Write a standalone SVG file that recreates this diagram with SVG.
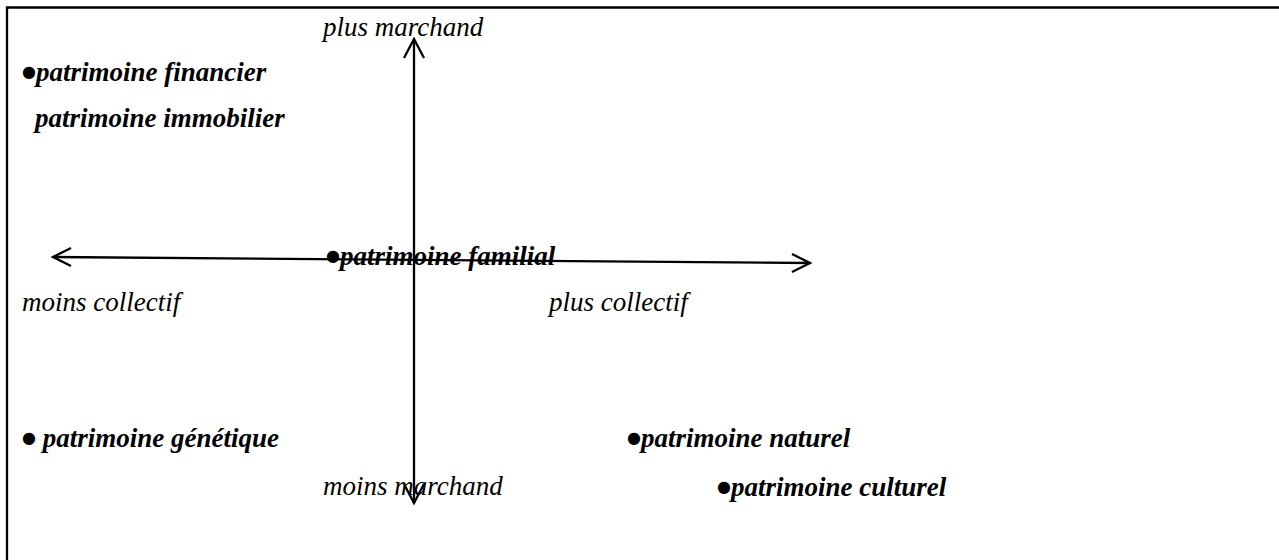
<svg xmlns="http://www.w3.org/2000/svg" width="1279" height="560" viewBox="0 0 1279 560">
<style>
.ax{font-family:"Liberation Serif","Times New Roman",serif;font-style:italic;font-size:27px;fill:#000}
.lb{font-family:"Liberation Serif","Times New Roman",serif;font-style:italic;font-weight:bold;font-size:27px;fill:#000}
.bul{font-family:"DejaVu Sans",sans-serif;font-size:16px;font-style:normal}
.ln{stroke:#000;stroke-width:2.3;fill:none}
</style>
<rect width="1279" height="560" fill="#fff"/>
<path class="ln" d="M7,561 V7.5 H1280" stroke-width="2.5"/>
<g id="connectors">
<path class="ln" d="M53,257 L810,263"/>
<path class="ln" d="M71,248 L53,257 L71,266"/>
<path class="ln" d="M792,254 L810,263 L792,272"/>
<path class="ln" d="M414,39 L414,503"/>
<path class="ln" d="M404,58 L414,39 L424,58"/>
<path class="ln" d="M404,484 L414,503 L424,484"/>
</g>
<g id="axis-labels">
<text class="ax" x="323" y="36">plus marchand</text>
<text class="ax" x="22" y="311">moins collectif</text>
<text class="ax" x="549" y="311">plus collectif</text>
<text class="ax" x="323" y="495">moins marchand</text>
</g>
<g id="n-financier"><text class="lb" x="22" y="81"><tspan class="bul" baseline-shift="4">●</tspan>patrimoine financier</text></g>
<g id="n-immobilier"><text class="lb" x="35" y="127">patrimoine immobilier</text></g>
<g id="n-familial"><text class="lb" x="326" y="265"><tspan class="bul" baseline-shift="4">●</tspan>patrimoine familial</text></g>
<g id="n-genetique"><text class="lb" x="22" y="447"><tspan class="bul" baseline-shift="4">●</tspan> patrimoine génétique</text></g>
<g id="n-naturel"><text class="lb" x="627" y="447"><tspan class="bul" baseline-shift="4">●</tspan>patrimoine naturel</text></g>
<g id="n-culturel"><text class="lb" x="717" y="496"><tspan class="bul" baseline-shift="4">●</tspan>patrimoine culturel</text></g>
</svg>
